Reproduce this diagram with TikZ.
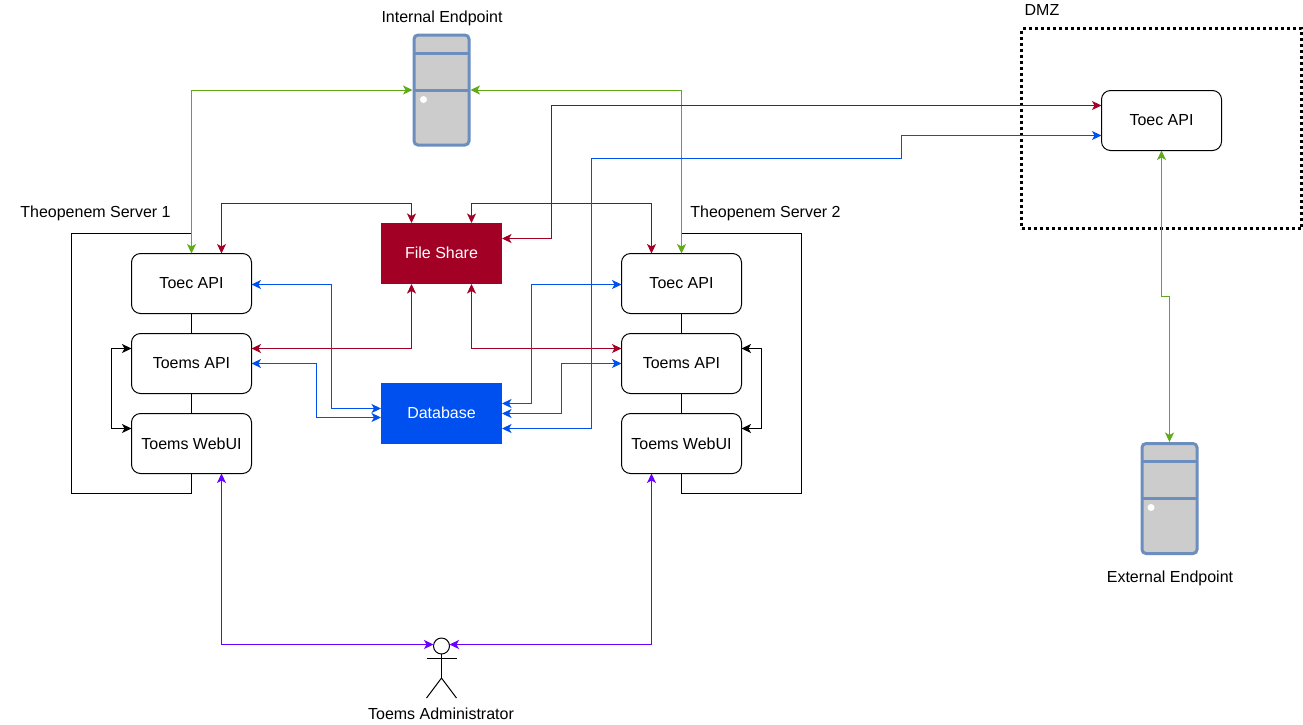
\documentclass[tikz,border=0pt]{standalone}
\usepackage{fontspec}
\setmainfont{Liberation Sans}
\usetikzlibrary{arrows.meta}
\definecolor{cred}{HTML}{A20025}
\definecolor{cblue}{HTML}{0050EF}
\definecolor{cgreen}{HTML}{60A917}
\definecolor{cpurple}{HTML}{6A00FF}
\definecolor{srvline}{HTML}{6C8EBF}
\definecolor{srvfill}{HTML}{CCCCCC}
\tikzset{
  conn/.style={line width=1pt,line join=miter,{Stealth[length=9.5pt,width=9pt,inset=2.5pt]}-{Stealth[length=9.5pt,width=9pt,inset=2.5pt]}},
  plainline/.style={line width=1pt,black},
  boxnode/.style={draw=black,line width=1pt,fill=white,rounded corners=9pt,minimum width=120pt,minimum height=60pt,inner sep=0pt,outer sep=0pt,font=\fontsize{16pt}{18pt}\selectfont},
  fillbox/.style={minimum width=121pt,minimum height=61pt,inner sep=0pt,outer sep=0pt,text=white,font=\fontsize{16pt}{18pt}\selectfont},
  srvnode/.style={draw=srvline,fill=srvfill,line width=3pt,rounded corners=4pt,minimum width=55pt,minimum height=110pt,inner sep=0pt,outer sep=1.5pt},
  label/.style={inner sep=0pt,outer sep=0pt,font=\fontsize{16pt}{18pt}\selectfont},
}
\begin{document}
\begin{tikzpicture}[x=1pt,y=-1pt]
\useasboundingbox (0,0) rectangle (1303,724);
\fill[white] (0,0) rectangle (1303,724);
\begin{scope}[shift={(0.5,0.5)}]

% DMZ
\node[draw=black,line width=3pt,dash pattern=on 3pt off 3pt,minimum width=280pt,minimum height=200pt,inner sep=0pt,outer sep=0pt] (dmz) at (1161,128) {};

% Servers
\node[srvnode] (int) at (441,89.5) {};
\draw[srvline,line width=3pt] ([yshift=37pt]int.center) ++(-27.5,0) -- ++(55,0);
\draw[srvline,line width=3pt] (int.center) ++(-27.5,0) -- ++(55,0);
\fill[white] (423,99) circle (3.5pt);
\node[srvnode] (ext) at (1169,498) {};
\draw[srvline,line width=3pt] ([yshift=37pt]ext.center) ++(-27.5,0) -- ++(55,0);
\draw[srvline,line width=3pt] (ext.center) ++(-27.5,0) -- ++(55,0);
\fill[white] (1150.5,507) circle (3.5pt);

% Boxes
\node[boxnode] (ta1) at (191,283) {Toec API};
\node[boxnode] (ma1) at (191,363) {Toems API};
\node[boxnode] (wu1) at (191,443) {Toems WebUI};
\node[boxnode] (ta2) at (681,283) {Toec API};
\node[boxnode] (ma2) at (681,363) {Toems API};
\node[boxnode] (wu2) at (681,443) {Toems WebUI};
\node[boxnode] (ta3) at (1161,120) {Toec API};
\node[fillbox,fill=cred] (fs) at (441,253) {\raisebox{1pt}{File Share}};
\node[fillbox,fill=cblue] (db) at (441,413) {\raisebox{1pt}{Database}};

% Labels
\node[label] (lint) at (441.5,17.5) {Internal Endpoint};
\node[label] (lext) at (1169.5,577.5) {External Endpoint};
\node[label] (ls1) at (95,212.5) {Theopenem Server 1};
\node[label] (ls2) at (765,212.5) {Theopenem Server 2};
\node[label] (ldmz) at (1041.5,9.5) {DMZ};
\node[label] (ladm) at (440.5,713.5) {Toems Administrator};

% Actor
\node[draw=black,line width=1pt,circle,minimum size=16pt,inner sep=0pt,outer sep=0pt] (adm) at (441,645.5) {};
\draw[plainline] (adm.south) -- ++(0,24) coordinate (hip);
\draw[plainline] (426,657.5) -- (456,657.5);
\draw[plainline] (426,697.5) -- (hip) -- (456,697.5);

% Frames and stack lines
\draw[plainline] (ta1.north) ++(0,-20) -- (71,233) -- (71,493) -- (191,493) -- (wu1.south);
\draw[plainline] (ta2.north) ++(0,-20) -- (801,233) -- (801,493) -- (681,493) -- (wu2.south);
\draw[plainline] (ta1.south) -- (ma1.north);
\draw[plainline] (ma1.south) -- (wu1.north);
\draw[plainline] (ta2.south) -- (ma2.north);
\draw[plainline] (ma2.south) -- (wu2.north);

% Black
\draw[conn,black] ([yshift=15pt]ma1.west) -- ++(-20,0) |- ([yshift=15pt]wu1.west);
\draw[conn,black] ([yshift=15pt]ma2.east) -- ++(20,0) |- ([yshift=15pt]wu2.east);

% Green
\draw[conn,cgreen] (ta1.north) |- (int.west);
\draw[conn,cgreen] (ta2.north) |- (int.east);
\draw[conn,cgreen] (ta3.south) -- ++(0,146) -- ++(8,0) -- (ext.north);

% Red
\draw[conn,cred] ([xshift=30pt]ta1.north) -- ++(0,-50) -| ([xshift=-30pt]fs.north);
\draw[conn,cred] ([xshift=30pt]fs.north) -- ++(0,-20) -| ([xshift=-30pt]ta2.north);
\draw[conn,cred] ([yshift=15pt]fs.east) -- ++(49.5,0) |- ([yshift=15pt]ta3.west);
\draw[conn,cred] ([yshift=15pt]ma1.east) -| ([xshift=-30pt]fs.south);
\draw[conn,cred] ([xshift=30pt]fs.south) |- ([yshift=15pt]ma2.west);

% Blue
\draw[conn,cblue] ([yshift=-1pt]ta1.east) -- ++(80,0) |- ([yshift=5pt]db.west);
\draw[conn,cblue] (ma1.east) -- ++(65,0) |- ([yshift=-4pt]db.west);
\draw[conn,cblue] ([yshift=-1pt]ta2.west) -- ++(-90,0) |- ([yshift=10pt]db.east);
\draw[conn,cblue] (ma2.west) -- ++(-60,0) |- (db.east);
\draw[conn,cblue] ([yshift=-15pt]db.east) -- ++(89.5,0) -- ++(0,-270) -- ++(310,0) |- ([yshift=-15pt]ta3.west);

% Purple
\draw[conn,cpurple] ([xshift=30pt]wu1.south) |- ([yshift=1.5pt]adm.west);
\draw[conn,cpurple] ([xshift=-30pt]wu2.south) |- ([yshift=1.5pt]adm.east);
\end{scope}
\end{tikzpicture}
\end{document}
